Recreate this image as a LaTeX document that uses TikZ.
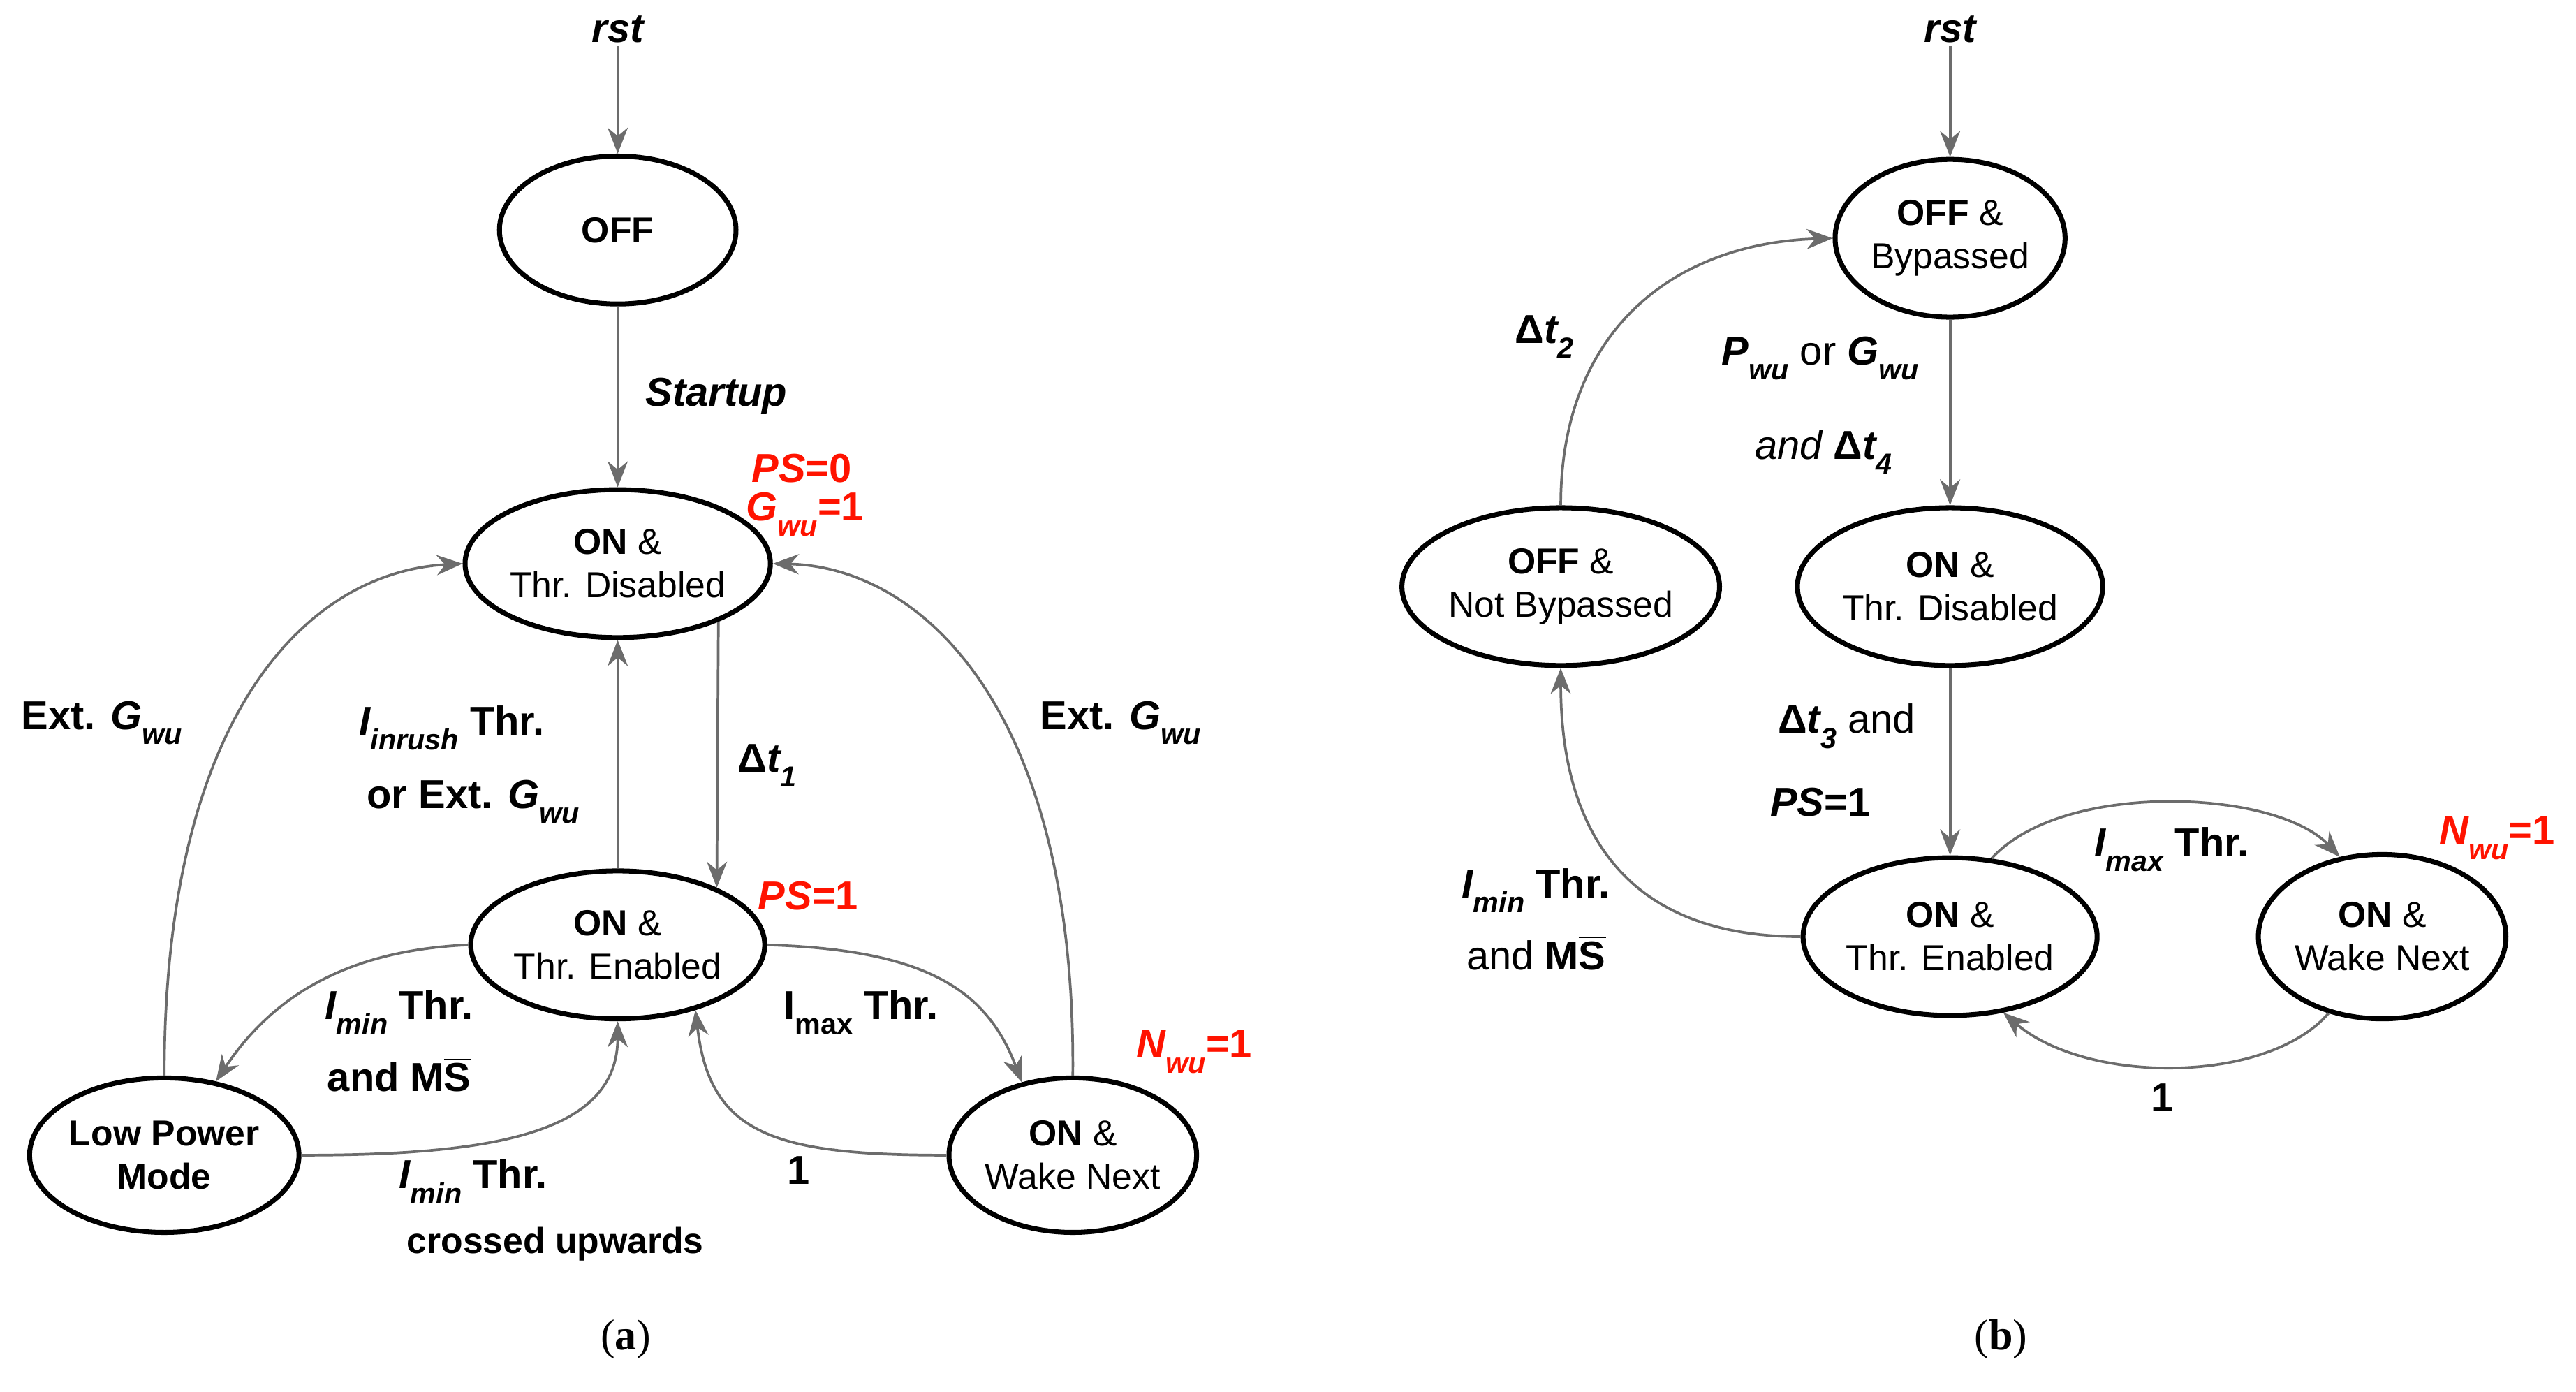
\documentclass[tikz,border=0pt]{standalone}
\usepackage{fontspec}
\setmainfont{Liberation Sans}
\newfontfamily\capfont{Liberation Serif}
\usetikzlibrary{shapes.geometric,arrows.meta}
\newcommand{\lsub}[1]{\raisebox{-0.7ex}{\fontsize{10}{11}\selectfont #1}}
\newcommand{\msbar}{M$\overline{\mbox{S}}$}
\newcommand{\dlt}{{\upshape\bfseries Δ}}
\begin{document}
\begin{tikzpicture}[x=0.02cm,y=-0.02cm,
  st/.style={ellipse,draw,line width=1.7pt,align=center,inner sep=0pt,font=\fontsize{12.5}{15}\selectfont},
  arr/.style={draw=gray!85!black,line width=0.9pt,-{Stealth[length=9pt,width=7pt]}},
  lab/.style={font=\fontsize{14}{16}\selectfont\bfseries,align=left,inner sep=1pt},
  red/.style={lab,text=red!85!orange}]
\useasboundingbox (0,0) rectangle (1568,847);
% (a)
\node[lab] (rstA) at (376,18) {\itshape rst};
\node[st,minimum width=144*0.02cm,minimum height=90*0.02cm] (off) at (376,140) {\bfseries OFF};
\node[st,minimum width=164*0.02cm,minimum height=90*0.02cm] (dis) at (376,343) {\textbf{ON} \&\\Thr. Disabled};
\node[st,minimum width=164*0.02cm,minimum height=90*0.02cm] (en) at (376,575) {\textbf{ON} \&\\Thr. Enabled};
\node[st,minimum width=164*0.02cm,minimum height=94*0.02cm] (lp) at (100,703) {\bfseries Low Power\\\bfseries Mode};
\node[st,minimum width=144*0.02cm,minimum height=94*0.02cm] (wn) at (653,703) {\textbf{ON} \&\\Wake Next};
\draw[arr] (rstA) -- (off);
\draw[arr] (off) -- (dis);
\draw[arr] (dis.-30) -- (en.30);
\draw[arr] (en) -- (dis);
\draw[arr] (lp.north) .. controls (100,430) and (190,348) .. (dis.west);
\draw[arr] (wn.north) .. controls (655,430) and (560,345) .. (dis.east);
\draw[arr] (en.west) .. controls (220,578) and (170,600) .. (lp.55);
\draw[arr] (lp.east) .. controls (300,703) and (376,690) .. (en.south);
\draw[arr] (en.east) .. controls (560,578) and (600,600) .. (wn.125);
\draw[arr] (wn.west) .. controls (470,703) and (432,690) .. (en.-40);
\node[lab] (l1) at (436,241) {\itshape Startup};
\node[red] (l2) at (488,285) {\itshape PS\upshape=0};
\node[red] (l3) at (490,313) {\itshape G\lsub{wu}\upshape=1};
\node[red] (l4) at (492,545) {\itshape PS\upshape=1};
\node[red] (l5) at (727,640) {\itshape N\lsub{wu}\upshape=1};
\node[lab] (l6) at (467,466) {\dlt\itshape t\lsub{1}};
\node[lab] (l7) at (275,443) {\itshape I\lsub{inrush}\upshape\ Thr.};
\node[lab] (l8) at (288,488) {or Ext. \itshape G\lsub{wu}};
\node[lab] (l9) at (62,440) {Ext. \itshape G\lsub{wu}};
\node[lab] (l10) at (682,440) {Ext. \itshape G\lsub{wu}};
\node[lab] (l11) at (243,616) {\itshape I\lsub{min}\upshape\ Thr.};
\node[lab] (l12) at (243,654) {and \msbar};
\node[lab] (l13) at (288,719) {\itshape I\lsub{min}\upshape\ Thr.};
\node[lab,font=\fontsize{12.5}{15}\selectfont\bfseries] (l14) at (338,757) {crossed upwards};
\node[lab] (l15) at (524,616) {I\lsub{max} Thr.};
\node[lab] (l16) at (486,712) {1};
\node[font=\capfont\fontsize{15}{17}\selectfont] (ca) at (381,815) {(\textbf{a})};
% (b)
\node[lab] (rstB) at (1187,18) {\itshape rst};
\node[st,minimum width=140*0.02cm,minimum height=96*0.02cm] (off2) at (1187,145) {\textbf{OFF} \&\\Bypassed};
\node[st,minimum width=174*0.02cm,minimum height=96*0.02cm] (nb) at (950,357) {\textbf{OFF} \&\\Not Bypassed};
\node[st,minimum width=166*0.02cm,minimum height=96*0.02cm] (dis2) at (1187,357) {\textbf{ON} \&\\Thr. Disabled};
\node[st,minimum width=166*0.02cm,minimum height=96*0.02cm] (en2) at (1187,570) {\textbf{ON} \&\\Thr. Enabled};
\node[st,minimum width=146*0.02cm,minimum height=100*0.02cm] (wn2) at (1450,570) {\textbf{ON} \&\\Wake Next};
\draw[arr] (rstB) -- (off2);
\draw[arr] (off2) -- (dis2);
\draw[arr] (dis2) -- (en2);
\draw[arr] (nb.north) .. controls (950,200) and (1020,148) .. (off2.west);
\draw[arr] (en2.west) .. controls (970,570) and (950,480) .. (nb.south);
\draw[arr] (en2.62) .. controls (1255,475) and (1385,480) .. (wn2.118);
\draw[arr] (wn2.-125) .. controls (1380,660) and (1270,660) .. (en2.-55);
\node[lab] (m1) at (1108,218) {\itshape P\lsub{wu}\upshape\ \mdseries or \bfseries\itshape G\lsub{wu}};
\node[lab] (m2) at (1110,275) {\mdseries\itshape and \dlt\bfseries\itshape t\lsub{4}};
\node[lab] (m3) at (940,205) {\dlt\itshape t\lsub{2}};
\node[lab] (m4) at (1124,442) {\dlt\itshape t\lsub{3}\upshape\ \mdseries and};
\node[lab] (m5) at (1108,488) {\itshape PS\upshape=1};
\node[lab] (m6) at (935,542) {\itshape I\lsub{min}\upshape\ Thr.};
\node[lab] (m7) at (935,580) {\mdseries and \bfseries\msbar};
\node[lab] (m8) at (1322,517) {\itshape I\lsub{max}\upshape\ Thr.};
\node[lab] (m9) at (1316,668) {1};
\node[red] (m10) at (1520,510) {\itshape N\lsub{wu}\upshape=1};
\node[font=\capfont\fontsize{15}{17}\selectfont] (cb) at (1218,815) {(\textbf{b})};
\end{tikzpicture}
\end{document}
